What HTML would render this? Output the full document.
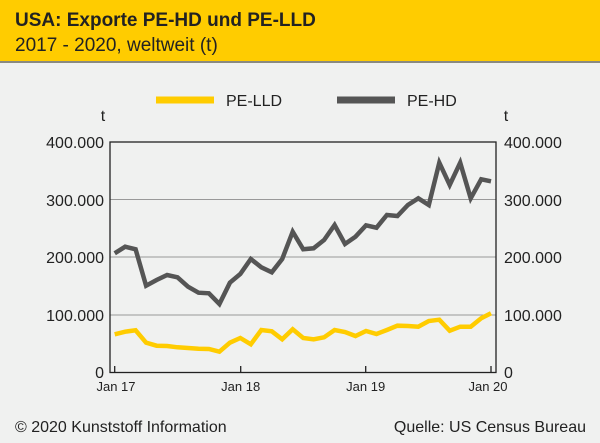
<!DOCTYPE html>
<html><head><meta charset="utf-8"><style>
body{margin:0;background:#f0f1f0;}
</style></head><body>
<svg width="600" height="443" xmlns="http://www.w3.org/2000/svg" style="display:block;font-family:'Liberation Sans',sans-serif">
<rect width="600" height="443" fill="#f0f1f0"/>
<rect width="600" height="61" fill="#ffcc00"/>
<rect y="61" width="600" height="2" fill="#8a8a80"/>
<text x="15" y="26" font-size="19" font-weight="bold" fill="#222">USA: Exporte PE-HD und PE-LLD</text>
<text x="15" y="51" font-size="19" fill="#222">2017 - 2020, weltweit (t)</text>
<line x1="156" y1="100" x2="214" y2="100" stroke="#ffcc00" stroke-width="7"/>
<text x="226" y="106" font-size="16" fill="#222">PE-LLD</text>
<line x1="337" y1="100" x2="395" y2="100" stroke="#555" stroke-width="7"/>
<text x="407" y="106" font-size="16" fill="#222">PE-HD</text>
<text x="103" y="121" font-size="16" fill="#222" text-anchor="middle">t</text>
<text x="506" y="121" font-size="16" fill="#222" text-anchor="middle">t</text>
<g stroke="#999" stroke-width="1">
<line x1="110" y1="199.5" x2="496" y2="199.5"/>
<line x1="110" y1="257" x2="496" y2="257"/>
<line x1="110" y1="315" x2="496" y2="315"/>
</g>
<rect x="110" y="142" width="386" height="230.5" fill="none" stroke="#222" stroke-width="1.3"/>
<g stroke="#222" stroke-width="1.3">
<line x1="114.7" y1="372" x2="114.7" y2="366"/>
<line x1="240.7" y1="372" x2="240.7" y2="366"/>
<line x1="365.7" y1="372" x2="365.7" y2="366"/>
<line x1="491" y1="372" x2="491" y2="366"/>
</g>
<g font-size="16" fill="#222" text-anchor="end">
<text x="104" y="148">400.000</text><text x="104" y="206">300.000</text><text x="104" y="263">200.000</text><text x="104" y="321">100.000</text><text x="104" y="378">0</text>
</g>
<g font-size="16" fill="#222">
<text x="504" y="148">400.000</text><text x="504" y="206">300.000</text><text x="504" y="263">200.000</text><text x="504" y="321">100.000</text><text x="504" y="378">0</text>
</g>
<g font-size="13" fill="#222" text-anchor="middle">
<text x="116" y="391">Jan 17</text><text x="240.7" y="391">Jan 18</text><text x="365.7" y="391">Jan 19</text><text x="488" y="391">Jan 20</text>
</g>
<polyline fill="none" stroke="#555" stroke-width="4.5" stroke-linejoin="miter" points="114.7,253.3 125.2,246.7 135.6,249.3 146.1,285.7 156.6,280 167.1,275 177.5,277.3 188,286.7 198.5,292.7 208.9,293.3 219.4,304 229.9,282.7 240.3,274 250.8,259 261.3,267.3 271.8,272.3 282.2,259 292.7,231.7 303.2,249.3 313.6,248.3 324.1,240 334.6,225 345,244 355.5,236.7 366,225.3 376.5,227.7 386.9,215 397.4,216 407.9,205 418.3,198.3 428.8,205 439.3,162.7 449.7,185 460.2,162.7 470.7,198.3 481.2,179.3 491,181.3"/>
<polyline fill="none" stroke="#ffcc00" stroke-width="4.5" points="114.7,334.3 125.2,331.7 135.6,330.3 146.1,342.7 156.6,345.7 167.1,346 177.5,347.3 188,348 198.5,348.7 208.9,349 219.4,351.7 229.9,342.7 240.3,338 250.8,344.3 261.3,330 271.8,331.3 282.2,339.3 292.7,329.3 303.2,338 313.6,339.3 324.1,337.3 334.6,330 345,332 355.5,336 366,331 376.5,334 386.9,330 397.4,325.7 407.9,326 418.3,326.7 428.8,321 439.3,319.7 449.7,330.7 460.2,326.7 470.7,326.7 481.2,318.3 491,313.3"/>
<text x="15" y="432" font-size="16" fill="#222">© 2020 Kunststoff Information</text>
<text x="586" y="432" font-size="16" fill="#222" text-anchor="end">Quelle: US Census Bureau</text>
</svg>
</body></html>
